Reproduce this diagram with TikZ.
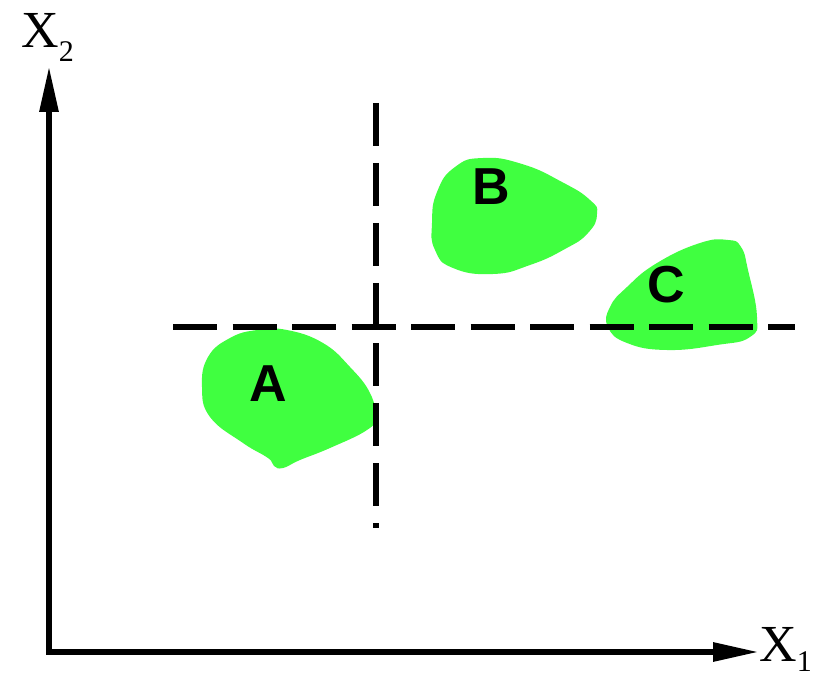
\documentclass[tikz,border=0pt]{standalone}
\usepackage{fontspec}
\setmainfont{Liberation Serif}
\newfontfamily\labelfont{Liberation Sans}
\usetikzlibrary{arrows.meta}
\definecolor{blobgreen}{RGB}{64,255,64}
\tikzset{
  blob/.style={fill=blobgreen, draw=none},
  axis/.style={line width=6pt, line join=miter, {Triangle[length=46pt,width=18pt]}-{Triangle[length=46pt,width=18pt]}},
  vdash/.style={line width=6pt, dash pattern=on 43pt off 17pt},
  hdash/.style={line width=6pt, dash pattern=on 44pt off 15.5pt},
  blobtext/.style={font=\labelfont\bfseries\fontsize{52}{60}\selectfont, inner sep=0pt},
  axtext/.style={font=\fontsize{52}{60}\selectfont, inner sep=0pt, anchor=base west}
}
\begin{document}
\begin{tikzpicture}[x=1pt,y=-1pt]
\useasboundingbox (0,0) rectangle (827,676);
% blobs
\fill[blob] plot[smooth cycle, tension=0.75] coordinates {
 (257,330) (287,330) (323,343) (350,367) (370,393) (375,417) (367,430)
 (330,448) (300,460) (283,468) (274,466) (268,458) (243,443) (210,417)
 (202,387) (208,357) (230,338)};
\fill[blob] plot[smooth cycle, tension=0.85] coordinates {
 (483,158) (522,164) (562,182) (590,200) (597,214) (588,233) (565,249)
 (530,265) (493,274) (453,268) (435,250) (432,223) (437,192) (455,167)};
\fill[blob] plot[smooth cycle, tension=0.8] coordinates {
 (700,243) (728,240) (741,247) (748,270) (757,317) (750,337) (717,345)
 (667,350) (627,343) (608,327) (610,307) (627,287) (657,263)};
% axes
\coordinate (O) at (49,652);
\coordinate (ytip) at (49,66);
\coordinate (xtip) at (759,652);
\draw[axis] (ytip) -- (O) -- (xtip);
\node[axtext] (x2) at (21,48) {X\raisebox{-14pt}{\fontsize{30}{30}\selectfont 2}};
\node[axtext] (x1) at (759,661) {X\raisebox{-10pt}{\fontsize{30}{30}\selectfont 1}};
% dashed lines
\coordinate (vtop) at (376,103);
\coordinate (vbot) at (376,528);
\coordinate (hleft) at (173,327);
\coordinate (hright) at (795,327);
\draw[vdash] (vtop) -- (vbot);
\draw[hdash] (hleft) -- (hright);
% labels
\node[blobtext] (A) at (268,384) {A};
\node[blobtext] (B) at (491,187) {B};
\node[blobtext] (C) at (666,285) {C};
\end{tikzpicture}
\end{document}
